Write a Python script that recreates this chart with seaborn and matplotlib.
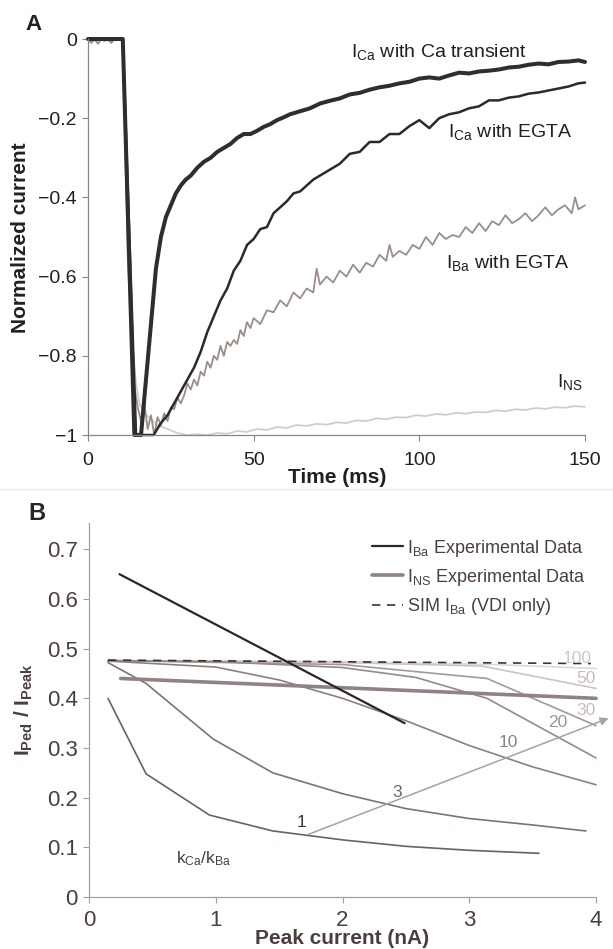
import matplotlib
matplotlib.use("Agg")
import matplotlib.pyplot as plt
import seaborn as sns

# ---- panel A data ----
t_ca_tr = [0, 2, 4, 6, 8, 10.5, 14, 16, 17.5, 19, 20.5, 22, 23.5, 25, 26.5, 28, 29.5, 31, 33, 35,
           37, 39, 41, 43, 45, 47, 49, 51, 53, 55, 57, 59, 61, 63, 65, 67, 70, 73, 76, 79, 82, 85,
           88, 91, 94, 97, 100, 103, 106, 109, 112, 115, 118, 121, 124, 127, 130, 133, 136, 139,
           142, 145, 148, 150]
i_ca_tr = [0, 0, 0, 0, 0, 0, -1, -1, -0.86, -0.72, -0.58, -0.50, -0.45, -0.42, -0.39, -0.37,
           -0.355, -0.345, -0.325, -0.31, -0.30, -0.285, -0.275, -0.265, -0.25, -0.24, -0.24,
           -0.232, -0.222, -0.215, -0.205, -0.198, -0.19, -0.185, -0.18, -0.175, -0.163, -0.156,
           -0.15, -0.14, -0.136, -0.128, -0.122, -0.118, -0.112, -0.108, -0.1, -0.097, -0.1,
           -0.092, -0.085, -0.087, -0.082, -0.08, -0.077, -0.072, -0.07, -0.065, -0.062, -0.064,
           -0.058, -0.057, -0.054, -0.058]

t_ca_egta = [0, 2, 4, 6, 8, 10.5, 14.5, 17, 19.8, 22, 24, 26, 28, 30, 32, 34, 36, 38, 40, 42, 44,
             46, 48, 50, 52, 54, 56, 58, 60, 62, 64, 66, 68, 70, 73, 76, 79, 82, 85, 88, 91, 94,
             97, 100, 103, 106, 109, 112, 115, 118, 121, 124, 127, 130, 133, 136, 139, 142, 145,
             148, 150]
i_ca_egta = [0, 0, 0, 0, 0, 0, -1, -1, -1, -0.97, -0.95, -0.92, -0.89, -0.86, -0.83, -0.79,
             -0.74, -0.70, -0.66, -0.63, -0.585, -0.56, -0.52, -0.505, -0.48, -0.475, -0.44,
             -0.425, -0.41, -0.39, -0.385, -0.37, -0.355, -0.345, -0.33, -0.315, -0.29, -0.285,
             -0.26, -0.26, -0.24, -0.24, -0.22, -0.205, -0.225, -0.2, -0.19, -0.185, -0.175,
             -0.17, -0.155, -0.155, -0.148, -0.145, -0.138, -0.135, -0.13, -0.125, -0.12,
             -0.112, -0.11]

t_ba = [0, 1, 2, 3, 4, 5, 6, 7, 8, 9, 10.5, 12, 13.5, 15, 16, 17, 18, 19, 20, 21, 22, 23, 24, 25,
        26, 27, 28, 29, 30, 31, 32, 33, 34, 35, 36, 37, 38, 39, 40, 41, 42, 43, 44, 45, 46, 47,
        48, 49, 50, 52, 54, 56, 58, 60, 62, 64, 66, 68, 69, 70, 72, 74, 76, 78, 80, 82, 84, 86,
        88, 90, 91, 92, 94, 96, 98, 100, 102, 104, 106, 108, 110, 112, 114, 116, 118, 120, 122,
        124, 126, 128, 130, 132, 134, 136, 138, 140, 142, 144, 146, 147, 148, 150]
i_ba = [0, -0.01, 0, -0.012, 0, -0.005, 0, -0.01, 0, 0, 0, -0.55, -0.85, -0.93, -0.965, -0.92,
        -0.985, -0.95, -1.0, -0.955, -0.975, -0.945, -0.965, -0.93, -0.935, -0.905, -0.92, -0.9,
        -0.87, -0.885, -0.86, -0.875, -0.84, -0.85, -0.815, -0.83, -0.8, -0.81, -0.775, -0.8,
        -0.765, -0.775, -0.76, -0.77, -0.735, -0.75, -0.715, -0.73, -0.705, -0.72, -0.685,
        -0.69, -0.66, -0.675, -0.64, -0.655, -0.63, -0.64, -0.58, -0.62, -0.6, -0.615, -0.585,
        -0.6, -0.57, -0.59, -0.565, -0.575, -0.545, -0.56, -0.52, -0.55, -0.535, -0.545, -0.52,
        -0.53, -0.5, -0.52, -0.49, -0.505, -0.495, -0.5, -0.475, -0.49, -0.465, -0.485, -0.46,
        -0.47, -0.445, -0.465, -0.455, -0.44, -0.46, -0.445, -0.425, -0.445, -0.43, -0.42,
        -0.44, -0.40, -0.43, -0.42]

t_ns = [0, 2, 4, 6, 8, 10.5, 11.5, 12.5, 13.5, 14.5, 15.5, 17, 19, 21, 24, 27, 30, 33, 36, 39,
        42, 45, 48, 51, 54, 57, 60, 63, 66, 69, 72, 75, 78, 81, 84, 87, 90, 93, 96, 99, 102,
        105, 108, 111, 114, 117, 120, 123, 126, 129, 132, 135, 138, 141, 144, 147, 150]
i_ns = [0, -0.005, 0, -0.004, 0, 0, -0.35, -0.6, -0.78, -0.87, -0.92, -0.945, -0.96, -0.975,
        -0.985, -0.995, -1.0, -0.998, -1.0, -0.995, -0.997, -0.99, -0.992, -0.985, -0.987,
        -0.98, -0.982, -0.975, -0.977, -0.972, -0.974, -0.968, -0.97, -0.963, -0.965, -0.958,
        -0.96, -0.955, -0.956, -0.95, -0.952, -0.947, -0.949, -0.944, -0.946, -0.942, -0.943,
        -0.938, -0.94, -0.935, -0.937, -0.932, -0.934, -0.93, -0.931, -0.927, -0.929]

a_xticks = [0, 50, 100, 150]
a_yticks = [-1, -0.8, -0.6, -0.4, -0.2, 0]
a_yticklabels = ["\u22121", "\u22120.8", "\u22120.6", "\u22120.4", "\u22120.2", "0"]

# ---- panel B data ----
ba_exp_x = [0.24, 2.49]
ba_exp_y = [0.65, 0.35]
ns_exp_x = [0.25, 4.0]
ns_exp_y = [0.44, 0.40]
sim_x = [0.15, 3.96]
sim_y = [0.477, 0.47]

k1_x = [0.15, 0.45, 0.95, 1.45, 2.0, 2.5, 3.0, 3.55]
k1_y = [0.40, 0.248, 0.165, 0.133, 0.115, 0.102, 0.094, 0.088]
k3_x = [0.15, 0.45, 0.98, 1.45, 2.0, 2.5, 3.0, 3.5, 3.92]
k3_y = [0.472, 0.43, 0.318, 0.25, 0.208, 0.178, 0.158, 0.145, 0.133]
k10_x = [0.15, 1.0, 1.5, 2.0, 2.5, 3.0, 3.5, 4.0]
k10_y = [0.475, 0.463, 0.437, 0.40, 0.355, 0.305, 0.262, 0.226]
k20_x = [0.15, 1.0, 2.0, 2.58, 3.14, 4.0]
k20_y = [0.476, 0.474, 0.462, 0.442, 0.40, 0.28]
k30_x = [0.15, 2.0, 3.14, 4.0]
k30_y = [0.476, 0.468, 0.44, 0.345]
k50_x = [0.15, 2.0, 3.1, 4.0]
k50_y = [0.476, 0.472, 0.465, 0.42]
k100_x = [0.15, 2.0, 3.2, 4.0]
k100_y = [0.476, 0.474, 0.468, 0.46]

k_labels = ["1", "3", "10", "20", "30", "50", "100"]
k_label_x = [1.68, 2.43, 3.31, 3.70, 3.92, 3.92, 3.85]
k_label_y = [0.151, 0.211, 0.311, 0.352, 0.376, 0.44, 0.48]
arrow_start = (1.71, 0.124)
arrow_end = (4.12, 0.362)

b_xticks = [0, 1, 2, 3, 4]
b_yticks = [0, 0.1, 0.2, 0.3, 0.4, 0.5, 0.6, 0.7]
b_yticklabels = ["0", "0.1", "0.2", "0.3", "0.4", "0.5", "0.6", "0.7"]

sns.set_style("ticks")
plt.rcParams["font.family"] = ["Liberation Sans", "DejaVu Sans"]
plt.rcParams["mathtext.fontset"] = "custom"
plt.rcParams["mathtext.rm"] = "Liberation Sans"
plt.rcParams["mathtext.it"] = "Liberation Sans:italic"
plt.rcParams["mathtext.bf"] = "Liberation Sans:bold"

fig = plt.figure(figsize=(6.13, 9.49), dpi=100)
W, H = 613, 949

# ================= panel A =================
axA = fig.add_axes([88 / W, 1 - 435 / H, 497 / W, 396 / H])
spA = "#8f8280"
sns.lineplot(x=t_ns, y=i_ns, ax=axA, color="#d3ccca", lw=1.3, sort=False, estimator=None)
sns.lineplot(x=t_ba, y=i_ba, ax=axA, color="#9b8d8a", lw=1.3, sort=False, estimator=None)
sns.lineplot(x=t_ca_egta, y=i_ca_egta, ax=axA, color="#2a2a2c", lw=1.8, sort=False, estimator=None)
sns.lineplot(x=t_ca_tr, y=i_ca_tr, ax=axA, color="#2e2e30", lw=2.9, sort=False, estimator=None)
for ln in axA.lines:
    ln.set_clip_on(False)
axA.set_xlim(0, 150)
axA.set_ylim(-1, 0)
axA.set_xticks(a_xticks)
axA.set_xticklabels([str(v) for v in a_xticks])
axA.set_yticks(a_yticks)
axA.set_yticklabels(a_yticklabels)
axA.tick_params(labelsize=14, length=4, width=0.8, color=spA, labelcolor="#231f20")
axA.tick_params(axis="x", pad=8)
axA.tick_params(axis="y", pad=4)
sns.despine(ax=axA)
for s in ["left", "bottom"]:
    axA.spines[s].set_color(spA)
    axA.spines[s].set_linewidth(0.9)
axA.set_xlabel("")
axA.set_ylabel("")

ann = dict(fontsize=14, color="#231f20", va="baseline", ha="left")
axA.text(79.5, -0.045, r"$\mathregular{I_{Ca}}$ with Ca transient", **ann)
axA.text(108.6, -0.248, r"$\mathregular{I_{Ca}}$ with EGTA", **ann)
axA.text(108, -0.578, r"$\mathregular{I_{Ba}}$ with EGTA", **ann)
axA.text(141.5, -0.878, r"$\mathregular{I_{NS}}$", **ann)

fig.text(33 / W, 1 - 24 / H, "A", fontsize=16, fontweight="bold", ha="center", va="center",
         color="#231f20")
fig.text(21 / W, 1 - 238 / H, "Normalized current", fontsize=15, fontweight="bold",
         rotation=90, ha="center", va="center", color="#231f20")
fig.text(337 / W, 1 - 478 / H, "Time (ms)", fontsize=15, fontweight="bold", ha="center",
         va="center", color="#231f20")

fig.add_artist(plt.Line2D([0, 1], [1 - 489 / H, 1 - 489 / H], transform=fig.transFigure,
                          color="#e8e8e8", lw=1))

# ================= panel B =================
axB = fig.add_axes([89 / W, 1 - 897 / H, 507 / W, 374 / H])
spB = "#a89d9a"
txtB = "#4a3f3d"
k_sets = [(k1_x, k1_y, "#6e605e"), (k3_x, k3_y, "#7f7270"), (k10_x, k10_y, "#8c807e"),
          (k20_x, k20_y, "#968a88"), (k30_x, k30_y, "#a49997"), (k50_x, k50_y, "#cbc3c1"),
          (k100_x, k100_y, "#ddd7d5")]
for kx, ky, kc in k_sets[::-1]:
    sns.lineplot(x=kx, y=ky, ax=axB, color=kc, lw=1.2, sort=False, estimator=None)

axB.annotate("", xy=arrow_end, xytext=arrow_start,
             arrowprops=dict(arrowstyle="-|>", color="#aaa09e", lw=1.1, mutation_scale=12),
             annotation_clip=False)

sns.lineplot(x=ns_exp_x, y=ns_exp_y, ax=axB, color="#8f8280", lw=2.6,
             label=r"$\mathregular{I_{NS}}$ Experimental Data")
sns.lineplot(x=sim_x, y=sim_y, ax=axB, color="#3a3232", lw=1.2, dashes=False,
             label=r"SIM $\mathregular{I_{Ba}}$ (VDI only)")
axB.lines[-1].set_dashes((5, 4))
sns.lineplot(x=ba_exp_x, y=ba_exp_y, ax=axB, color="#2d2626", lw=1.6,
             label=r"$\mathregular{I_{Ba}}$ Experimental Data")
for ln in axB.lines:
    ln.set_clip_on(False)

k_cols = ["#3d3433", "#6e6361", "#8d8280", "#9e9391", "#c6bdbb", "#c6bdbb", "#d0c8c6"]
for lab, lx, ly, lc in zip(k_labels, k_label_x, k_label_y, k_cols):
    axB.text(lx, ly, lab, fontsize=12.5, color=lc, ha="center", va="center")
axB.text(0.69, 0.077, r"$\mathregular{k_{Ca}/k_{Ba}}$", fontsize=12.5, color=txtB,
         ha="left", va="center")

handles, labels = axB.get_legend_handles_labels()
order = [2, 0, 1]
axB.legend([handles[i] for i in order], [labels[i] for i in order], loc="upper left",
           bbox_to_anchor=(0.54, 0.985), frameon=False, fontsize=13, labelcolor=txtB,
           handlelength=1.75, handletextpad=0.2, labelspacing=0.45, borderpad=0)

axB.set_xlim(0, 4)
axB.set_ylim(0, 0.753)
axB.set_xticks(b_xticks)
axB.set_xticklabels([str(v) for v in b_xticks])
axB.set_yticks(b_yticks)
axB.set_yticklabels(b_yticklabels)
axB.tick_params(labelsize=16, length=4, width=0.8, color=spB, labelcolor=txtB)
axB.tick_params(axis="x", pad=5)
axB.tick_params(axis="y", pad=4)
sns.despine(ax=axB)
for s in ["left", "bottom"]:
    axB.spines[s].set_color(spB)
    axB.spines[s].set_linewidth(0.9)
axB.set_xlabel("")
axB.set_ylabel("")

fig.text(37 / W, 1 - 514 / H, "B", fontsize=17, fontweight="bold", ha="center", va="center",
         color="#2b2424")
fig.text(24 / W, 1 - 710 / H, r"$\mathbf{I_{Ped}}$ / $\mathbf{I_{Peak}}$", fontsize=15,
         fontweight="bold", rotation=90, ha="center", va="center", color=txtB)
fig.text(342 / W, 1 - 938 / H, "Peak current (nA)", fontsize=15, fontweight="bold",
         ha="center", va="center", color=txtB)

fig.savefig("out.png", dpi=100)
